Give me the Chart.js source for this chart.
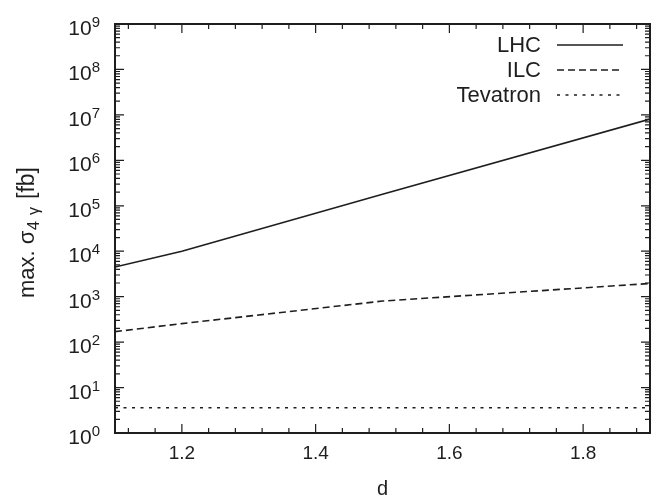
<!DOCTYPE html>
<html>
<head>
<meta charset="utf-8">
<script src="https://cdn.jsdelivr.net/npm/chart.js@4"></script>
<style>
html,body{margin:0;padding:0;background:#fff;}
#wrap{width:668px;height:502px;}
</style>
</head>
<body>
<div id="wrap"><canvas id="c" width="668" height="502"></canvas></div>
<script>
// ---- data ----
const seriesNames = ['LHC', 'ILC', 'Tevatron'];
const lhcD = [1.1, 1.2, 1.5, 1.9];
const lhcVals = [4500, 10000, 180000, 8100000];
const ilcD = [1.1, 1.2, 1.5, 1.9];
const ilcVals = [170, 255, 800, 1950];
const tevD = [1.1, 1.9];
const tevVals = [3.6, 3.6];
const xTickValues = [1.2, 1.4, 1.6, 1.8];
const xTickLabels = ['1.2', '1.4', '1.6', '1.8'];
const yExponents = [0, 1, 2, 3, 4, 5, 6, 7, 8, 9];
const xTitle = 'd';

const INK = '#1e1e1e';
const FONT = '"Liberation Sans", Arial, Helvetica, sans-serif';

function pts(xs, ys) { return xs.map((v, i) => ({x: v, y: ys[i]})); }

const decor = {
  id: 'decor',
  afterDraw(chart) {
    const {ctx, chartArea: a, scales: {x, y}} = chart;
    ctx.save();
    ctx.strokeStyle = INK;
    ctx.fillStyle = INK;
    // ticks on y (both sides, inward)
    ctx.lineWidth = 1.2;
    for (const e of yExponents) {
      const base = Math.pow(10, e);
      const py = y.getPixelForValue(base);
      ctx.beginPath();
      ctx.moveTo(a.left, py); ctx.lineTo(a.left + 9, py);
      ctx.moveTo(a.right, py); ctx.lineTo(a.right - 9, py);
      ctx.stroke();
      if (e < 9) {
        for (let m = 2; m <= 9; m++) {
          const q = y.getPixelForValue(base * m);
          ctx.beginPath();
          ctx.moveTo(a.left, q); ctx.lineTo(a.left + 5, q);
          ctx.moveTo(a.right, q); ctx.lineTo(a.right - 5, q);
          ctx.stroke();
        }
      }
    }
    // ticks on x (both sides, inward)
    for (let k = 28; k <= 47; k++) {
      const v = k * 0.04;
      const px = x.getPixelForValue(v);
      const len = (k % 5 === 0) ? 9 : 5;
      ctx.beginPath();
      ctx.moveTo(px, a.bottom); ctx.lineTo(px, a.bottom - len);
      ctx.moveTo(px, a.top); ctx.lineTo(px, a.top + len);
      ctx.stroke();
    }
    // frame
    ctx.lineWidth = 2;
    ctx.strokeRect(a.left, a.top, a.right - a.left, a.bottom - a.top);

    // x tick labels
    ctx.font = '19px ' + FONT;
    ctx.textAlign = 'center';
    ctx.textBaseline = 'alphabetic';
    xTickValues.forEach((v, i) => {
      ctx.fillText(xTickLabels[i], x.getPixelForValue(v), a.bottom + 26);
    });
    // x title
    ctx.font = '20px ' + FONT;
    ctx.fillText(xTitle, (a.left + a.right) / 2, a.bottom + 62);

    // y tick labels 10^n
    for (const e of yExponents) {
      const py = y.getPixelForValue(Math.pow(10, e));
      ctx.font = '15px ' + FONT;
      const ew = ctx.measureText(String(e)).width;
      ctx.textAlign = 'left';
      const expX = a.left - 15 - ew;
      ctx.fillText(String(e), expX, py + 3);
      ctx.font = '21px ' + FONT;
      ctx.textAlign = 'right';
      ctx.fillText('10', expX, py + 11);
    }

    // y title: max. σ_{4 γ} [fb]
    ctx.save();
    ctx.translate(34, 0);
    ctx.rotate(-Math.PI / 2);
    ctx.textAlign = 'left';
    ctx.font = '22px ' + FONT;
    ctx.fillText('max. σ', -298, 0);
    ctx.font = '16px ' + FONT;
    ctx.fillText('4', -230, 5);
    ctx.fillText('γ', -215, 5);
    ctx.font = '23px ' + FONT;
    ctx.fillText('[fb]', -199, 0);
    ctx.restore();

    // legend (top right, text right-aligned, then sample line)
    ctx.font = '22px ' + FONT;
    ctx.textAlign = 'right';
    ctx.textBaseline = 'middle';
    chart.data.datasets.forEach((ds, i) => {
      const ly = a.top + 21 + i * 25;
      ctx.fillText(ds.label, 541, ly + 1);
      ctx.save();
      ctx.lineWidth = ds.borderWidth;
      ctx.setLineDash(ds.borderDash || []);
      ctx.beginPath();
      ctx.moveTo(557, ly); ctx.lineTo(623, ly);
      ctx.stroke();
      ctx.restore();
    });
    ctx.restore();
  }
};

new Chart(document.getElementById('c'), {
  type: 'line',
  data: {
    datasets: [
      {label: seriesNames[0], data: pts(lhcD, lhcVals), borderColor: INK, borderWidth: 1.6, borderDash: [], pointRadius: 0, tension: 0},
      {label: seriesNames[1], data: pts(ilcD, ilcVals), borderColor: INK, borderWidth: 1.6, borderDash: [7, 4], pointRadius: 0, tension: 0},
      {label: seriesNames[2], data: pts(tevD, tevVals), borderColor: INK, borderWidth: 1.4, borderDash: [3, 5.5], pointRadius: 0, tension: 0}
    ]
  },
  options: {
    responsive: false,
    animation: false,
    layout: {padding: {left: 0, right: 18, top: 24, bottom: 0}},
    plugins: {legend: {display: false}, tooltip: {enabled: false}},
    scales: {
      x: {
        type: 'linear', min: 1.1, max: 1.9,
        grid: {display: false}, border: {display: false},
        ticks: {display: false},
        afterFit(s) { s.height = 69; }
      },
      y: {
        type: 'logarithmic', min: 1, max: 1e9,
        grid: {display: false}, border: {display: false},
        ticks: {display: false},
        afterFit(s) { s.width = 115; }
      }
    }
  },
  plugins: [decor]
});
</script>
</body>
</html>
